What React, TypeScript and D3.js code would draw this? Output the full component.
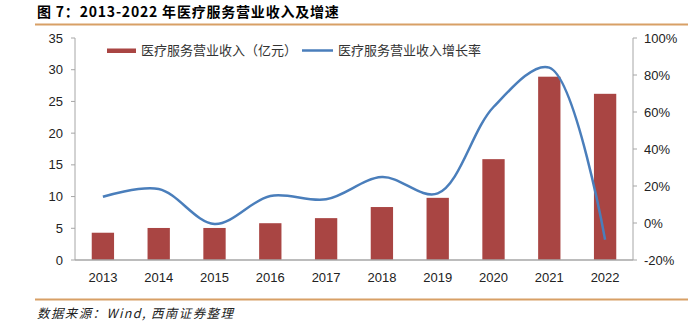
import React from "react";
import * as d3 from "d3";

const years = ["2013", "2014", "2015", "2016", "2017", "2018", "2019", "2020", "2021", "2022"];
const revenue = [4.3, 5.05, 5.05, 5.8, 6.6, 8.35, 9.8, 15.9, 28.9, 26.2];
const growth = [14.2, 18.4, -0.5, 14.6, 12.8, 24.8, 16.0, 62.7, 84.0, -9.0];
const leftTicks = [0, 5, 10, 15, 20, 25, 30, 35];
const rightTicks = [-20, 0, 20, 40, 60, 80, 100];

const W = 698;
const H = 322;
const left = 75;
const right = 633;
const top = 38;
const bottom = 260;

export default function App() {
  const x = d3.scaleBand<string>().domain(years).range([left, right]).paddingInner(0.6).paddingOuter(0.3);
  const yL = d3.scaleLinear().domain([0, 35]).range([bottom, top]);
  const yR = d3.scaleLinear().domain([-20, 100]).range([bottom, top]);
  const cx = (d: string) => (x(d) as number) + x.bandwidth() / 2;
  const line = d3
    .line<number>()
    .x((_, i) => cx(years[i]))
    .y((d) => yR(d))
    .curve(d3.curveCatmullRom.alpha(0.5));
  const axisColor = "#a6a6a6";
  const font = "'Liberation Sans', Arial, sans-serif";
  const cjk = "'Noto Sans CJK SC', sans-serif";
  return (
    <svg width={W} height={H} style={{ position: "absolute", left: 0, top: 0, background: "#fff" }}>
      <text x={37} y={17} fontFamily={cjk} fontWeight="bold" fontSize={14} letterSpacing={0.8} fill="#000">
        图 7：2013-2022 年医疗服务营业收入及增速
      </text>
      <line x1={35} x2={688} y1={24.5} y2={24.5} stroke="#d8a066" strokeWidth={2} />
      <line x1={35} x2={688} y1={299.5} y2={299.5} stroke="#d8a066" strokeWidth={2} />
      <text x={37} y={318} fontFamily={cjk} fontStyle="italic" fontSize={12.5} letterSpacing={1.4} fill="#222">
        数据来源：Wind, 西南证券整理
      </text>

      {/* bars */}
      {years.map((yr, i) => (
        <rect
          key={yr}
          x={x(yr)}
          y={yL(revenue[i])}
          width={x.bandwidth()}
          height={bottom - yL(revenue[i])}
          fill="#a94543"
        />
      ))}

      {/* line */}
      <path d={line(growth) || ""} fill="none" stroke="#4a7ebb" strokeWidth={2.5} />

      {/* axes */}
      <line x1={left} x2={left} y1={top} y2={bottom} stroke={axisColor} />
      <line x1={right} x2={right} y1={top} y2={bottom} stroke={axisColor} />
      <line x1={left} x2={right} y1={bottom} y2={bottom} stroke={axisColor} strokeWidth={1.5} />
      {leftTicks.map((t) => (
        <g key={"l" + t}>
          <line x1={left - 4} x2={left} y1={yL(t)} y2={yL(t)} stroke={axisColor} />
          <text x={63} y={yL(t) + 4.5} textAnchor="end" fontFamily={font} fontSize={13} fill="#222">
            {t}
          </text>
        </g>
      ))}
      {rightTicks.map((t) => (
        <g key={"r" + t}>
          <line x1={right} x2={right + 4} y1={yR(t)} y2={yR(t)} stroke={axisColor} />
          <text x={644} y={yR(t) + 4.5} textAnchor="start" fontFamily={font} fontSize={13} fill="#222">
            {t + "%"}
          </text>
        </g>
      ))}
      {years.map((yr) => (
        <text key={"x" + yr} x={cx(yr)} y={282} textAnchor="middle" fontFamily={font} fontSize={13} fill="#222">
          {yr}
        </text>
      ))}

      {/* legend */}
      <rect x={107} y={48.5} width={29} height={4.5} fill="#a94543" />
      <text x={141} y={55} fontFamily={cjk} fontSize={13} fill="#333">
        医疗服务营业收入（亿元）
      </text>
      <line x1={302} x2={333} y1={50.5} y2={50.5} stroke="#4a7ebb" strokeWidth={2.5} />
      <text x={338} y={55} fontFamily={cjk} fontSize={13} fill="#333">
        医疗服务营业收入增长率
      </text>
    </svg>
  );
}
